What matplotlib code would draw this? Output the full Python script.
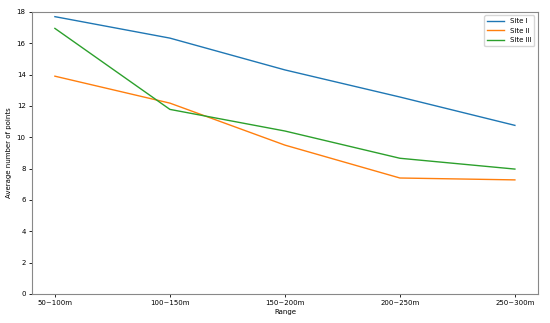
import matplotlib
matplotlib.use("Agg")
import matplotlib.pyplot as plt   # type: ignore

ranges = ["50~100m", "100~150m", "150~200m", "200~250m", "250~300m"]
site_1 = [17.7, 16.33, 14.3, 12.57, 10.76]
site_2 = [13.9, 12.18, 9.5, 7.4, 7.28]
site_3 = [16.95, 11.78, 10.4, 8.66, 7.97]

fig = plt.figure(figsize=(5.5, 3.23), dpi=100)
ax = fig.add_axes([0.058, 0.09, 0.92, 0.873])

x = range(len(ranges))
ax.plot(x, site_1, label="Site I", linewidth=1.0)
ax.plot(x, site_2, label="Site II", linewidth=1.0)
ax.plot(x, site_3, label="Site III", linewidth=1.0)

ax.set_xticks(list(x))
ax.set_xticklabels(ranges)
ax.set_ylim(0, 18)
ax.set_yticks(range(0, 19, 2))
ax.tick_params(labelsize=5, length=2.5, width=0.6, pad=2)
ax.set_xlabel("Range", fontsize=5, labelpad=2)
ax.set_ylabel("Average number of points", fontsize=5, labelpad=3)
for s in ax.spines.values():
    s.set_linewidth(0.8)
    s.set_color("#888888")

ax.legend(fontsize=5, loc="upper right", handlelength=2.5)

fig.savefig("out.png", dpi=100)
